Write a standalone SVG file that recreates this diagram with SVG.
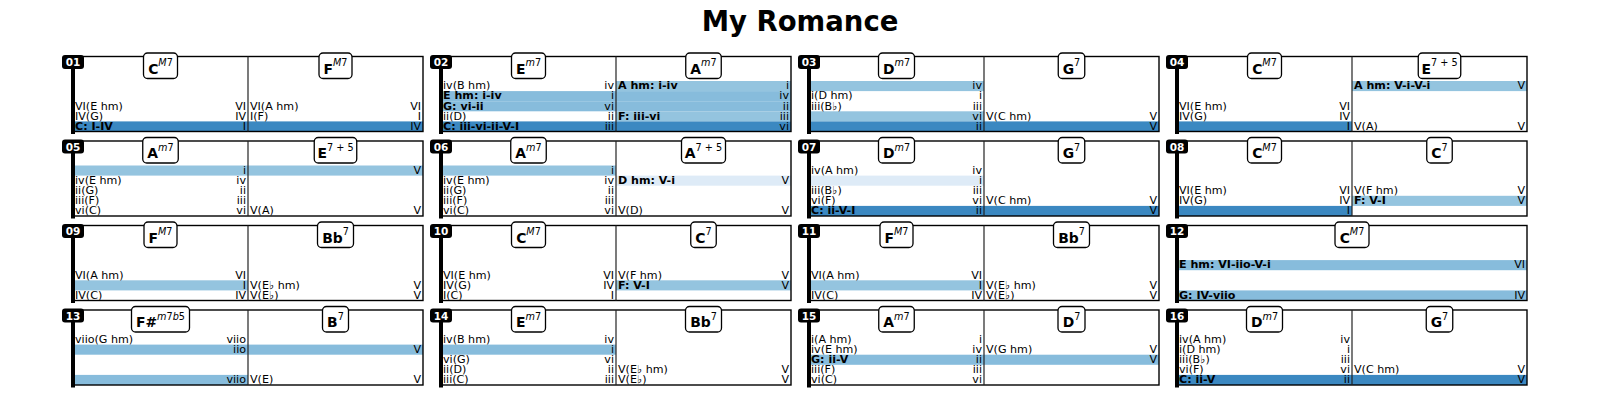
<svg xmlns="http://www.w3.org/2000/svg" width="1600" height="400" viewBox="0 0 1600 400">
<style>
.bg{fill:#fff}
.box{fill:none;stroke:#000;stroke-width:1.4}
.dv{stroke:#222;stroke-width:1.2}
.bar{stroke:#000;stroke-width:4}
.L{fill:#94c4df}.M{fill:#87bcdc}.D{fill:#3b88c1}.V{fill:#deebf7}
text{font-family:"DejaVu Sans","Liberation Sans",sans-serif}
.t{font-size:11.1px;fill:#000}
.b{font-weight:bold}
.r{text-anchor:end}
.ch{font-size:13.9px;font-weight:bold;text-anchor:middle;fill:#000}
.s{font-size:9.7px;font-weight:normal}
.i{font-style:italic}
.cb{fill:#fff;stroke:#000;stroke-width:1.3}
.bd{fill:#000}
.bt{fill:#fff;font-size:10.5px;font-weight:bold;text-anchor:middle}
.title{font-size:27.5px;font-weight:bold;text-anchor:middle;fill:#000}
</style>
<rect class="bg" x="0" y="0" width="1600" height="400"/>
<text class="title" x="800" y="31">My Romance</text>
<g id="connectors"/>

<g id="m01" transform="translate(73,56.5)">
<rect class="D" x="0" y="64.9" width="350" height="10.1"/>
<rect class="box" x="0" y="0" width="350" height="75"/><line class="dv" x1="175" y1="0" x2="175" y2="75"/>
<text class="t" x="2" y="53">VI(E hm)</text><text class="t r" x="173" y="53">VI</text>
<text class="t" x="2" y="63.1">IV(G)</text><text class="t r" x="173" y="63.1">IV</text>
<text class="t b" x="2" y="73.2">C: I-IV</text><text class="t r" x="173" y="73.2">I</text>
<text class="t" x="177" y="53">VI(A hm)</text><text class="t r" x="348" y="53">VI</text>
<text class="t" x="177" y="63.1">I(F)</text><text class="t r" x="348" y="63.1">I</text>
<text class="t r" x="348" y="73.2">IV</text>
<rect class="cb" x="70.5" y="-3.5" width="34" height="25.5" rx="4"/><text class="ch" x="87.5" y="17">C<tspan class="s" dy="-7.5"><tspan class="i">M</tspan>7</tspan></text>
<rect class="cb" x="246" y="-3.5" width="33" height="25.5" rx="4"/><text class="ch" x="262.5" y="17">F<tspan class="s" dy="-7.5"><tspan class="i">M</tspan>7</tspan></text>
<line class="bar" x1="0" y1="-1" x2="0" y2="77.5"/><rect class="bd" x="-11" y="-1.5" width="22" height="14" rx="3"/><text class="bt" x="0" y="9.5">01</text>
</g>

<g id="m02" transform="translate(441,56.5)">
<rect class="M" x="0" y="34.6" width="175" height="10.1"/><rect class="M" x="0" y="44.7" width="175" height="10.1"/><rect class="D" x="0" y="64.9" width="175" height="10.1"/>
<rect class="L" x="175" y="24.5" width="175" height="10.1"/><rect class="M" x="175" y="34.6" width="175" height="10.1"/><rect class="M" x="175" y="44.7" width="175" height="10.1"/><rect class="L" x="175" y="54.8" width="175" height="10.1"/><rect class="D" x="175" y="64.9" width="175" height="10.1"/>
<rect class="box" x="0" y="0" width="350" height="75"/><line class="dv" x1="175" y1="0" x2="175" y2="75"/>
<text class="t" x="2" y="32.8">iv(B hm)</text><text class="t r" x="173" y="32.8">iv</text>
<text class="t b" x="2" y="42.9">E hm: i-iv</text><text class="t r" x="173" y="42.9">i</text>
<text class="t b" x="2" y="53">G: vi-ii</text><text class="t r" x="173" y="53">vi</text>
<text class="t" x="2" y="63.1">ii(D)</text><text class="t r" x="173" y="63.1">ii</text>
<text class="t b" x="2" y="73.2">C: iii-vi-ii-V-I</text><text class="t r" x="173" y="73.2">iii</text>
<text class="t b" x="177" y="32.8">A hm: i-iv</text><text class="t r" x="348" y="32.8">i</text>
<text class="t r" x="348" y="42.9">iv</text>
<text class="t r" x="348" y="53">ii</text>
<text class="t b" x="177" y="63.1">F: iii-vi</text><text class="t r" x="348" y="63.1">iii</text>
<text class="t r" x="348" y="73.2">vi</text>
<rect class="cb" x="70.5" y="-3.5" width="34" height="25.5" rx="4"/><text class="ch" x="87.5" y="17">E<tspan class="s" dy="-7.5"><tspan class="i">m</tspan>7</tspan></text>
<rect class="cb" x="244.75" y="-3.5" width="35.5" height="25.5" rx="4"/><text class="ch" x="262.5" y="17">A<tspan class="s" dy="-7.5"><tspan class="i">m</tspan>7</tspan></text>
<line class="bar" x1="0" y1="-1" x2="0" y2="77.5"/><rect class="bd" x="-11" y="-1.5" width="22" height="14" rx="3"/><text class="bt" x="0" y="9.5">02</text>
</g>

<g id="m03" transform="translate(809,56.5)">
<rect class="L" x="0" y="24.5" width="175" height="10.1"/><rect class="L" x="0" y="54.8" width="175" height="10.1"/><rect class="D" x="0" y="64.9" width="350" height="10.1"/>
<rect class="box" x="0" y="0" width="350" height="75"/><line class="dv" x1="175" y1="0" x2="175" y2="75"/>
<text class="t r" x="173" y="32.8">iv</text>
<text class="t" x="2" y="42.9">i(D hm)</text><text class="t r" x="173" y="42.9">i</text>
<text class="t" x="2" y="53">iii(B♭)</text><text class="t r" x="173" y="53">iii</text>
<text class="t r" x="173" y="63.1">vi</text>
<text class="t r" x="173" y="73.2">ii</text>
<text class="t" x="177" y="63.1">V(C hm)</text><text class="t r" x="348" y="63.1">V</text>
<text class="t r" x="348" y="73.2">V</text>
<rect class="cb" x="69.5" y="-3.5" width="36" height="25.5" rx="4"/><text class="ch" x="87.5" y="17">D<tspan class="s" dy="-7.5"><tspan class="i">m</tspan>7</tspan></text>
<rect class="cb" x="249.25" y="-3.5" width="26.5" height="25.5" rx="4"/><text class="ch" x="262.5" y="17">G<tspan class="s" dy="-7.5">7</tspan></text>
<line class="bar" x1="0" y1="-1" x2="0" y2="77.5"/><rect class="bd" x="-11" y="-1.5" width="22" height="14" rx="3"/><text class="bt" x="0" y="9.5">03</text>
</g>

<g id="m04" transform="translate(1177,56.5)">
<rect class="D" x="0" y="64.9" width="175" height="10.1"/><rect class="L" x="175" y="24.5" width="175" height="10.1"/>
<rect class="box" x="0" y="0" width="350" height="75"/><line class="dv" x1="175" y1="0" x2="175" y2="75"/>
<text class="t" x="2" y="53">VI(E hm)</text><text class="t r" x="173" y="53">VI</text>
<text class="t" x="2" y="63.1">IV(G)</text><text class="t r" x="173" y="63.1">IV</text>
<text class="t r" x="173" y="73.2">I</text>
<text class="t b" x="177" y="32.8">A hm: V-i-V-i</text><text class="t r" x="348" y="32.8">V</text>
<text class="t" x="177" y="73.2">V(A)</text><text class="t r" x="348" y="73.2">V</text>
<rect class="cb" x="70.5" y="-3.5" width="34" height="25.5" rx="4"/><text class="ch" x="87.5" y="17">C<tspan class="s" dy="-7.5"><tspan class="i">M</tspan>7</tspan></text>
<rect class="cb" x="241.25" y="-3.5" width="42.5" height="25.5" rx="4"/><text class="ch" x="262.5" y="17">E<tspan class="s" dy="-7.5">7 + 5</tspan></text>
<line class="bar" x1="0" y1="-1" x2="0" y2="77.5"/><rect class="bd" x="-11" y="-1.5" width="22" height="14" rx="3"/><text class="bt" x="0" y="9.5">04</text>
</g>

<g id="m05" transform="translate(73,141)">
<rect class="L" x="0" y="24.5" width="350" height="10.1"/>
<rect class="box" x="0" y="0" width="350" height="75"/><line class="dv" x1="175" y1="0" x2="175" y2="75"/>
<text class="t r" x="173" y="32.8">i</text>
<text class="t" x="2" y="42.9">iv(E hm)</text><text class="t r" x="173" y="42.9">iv</text>
<text class="t" x="2" y="53">ii(G)</text><text class="t r" x="173" y="53">ii</text>
<text class="t" x="2" y="63.1">iii(F)</text><text class="t r" x="173" y="63.1">iii</text>
<text class="t" x="2" y="73.2">vi(C)</text><text class="t r" x="173" y="73.2">vi</text>
<text class="t r" x="348" y="32.8">V</text>
<text class="t" x="177" y="73.2">V(A)</text><text class="t r" x="348" y="73.2">V</text>
<rect class="cb" x="69.75" y="-3.5" width="35.5" height="25.5" rx="4"/><text class="ch" x="87.5" y="17">A<tspan class="s" dy="-7.5"><tspan class="i">m</tspan>7</tspan></text>
<rect class="cb" x="241.25" y="-3.5" width="42.5" height="25.5" rx="4"/><text class="ch" x="262.5" y="17">E<tspan class="s" dy="-7.5">7 + 5</tspan></text>
<line class="bar" x1="0" y1="-1" x2="0" y2="77.5"/><rect class="bd" x="-11" y="-1.5" width="22" height="14" rx="3"/><text class="bt" x="0" y="9.5">05</text>
</g>

<g id="m06" transform="translate(441,141)">
<rect class="L" x="0" y="24.5" width="175" height="10.1"/><rect class="V" x="175" y="34.6" width="175" height="10.1"/>
<rect class="box" x="0" y="0" width="350" height="75"/><line class="dv" x1="175" y1="0" x2="175" y2="75"/>
<text class="t r" x="173" y="32.8">i</text>
<text class="t" x="2" y="42.9">iv(E hm)</text><text class="t r" x="173" y="42.9">iv</text>
<text class="t" x="2" y="53">ii(G)</text><text class="t r" x="173" y="53">ii</text>
<text class="t" x="2" y="63.1">iii(F)</text><text class="t r" x="173" y="63.1">iii</text>
<text class="t" x="2" y="73.2">vi(C)</text><text class="t r" x="173" y="73.2">vi</text>
<text class="t b" x="177" y="42.9">D hm: V-i</text><text class="t r" x="348" y="42.9">V</text>
<text class="t" x="177" y="73.2">V(D)</text><text class="t r" x="348" y="73.2">V</text>
<rect class="cb" x="69.75" y="-3.5" width="35.5" height="25.5" rx="4"/><text class="ch" x="87.5" y="17">A<tspan class="s" dy="-7.5"><tspan class="i">m</tspan>7</tspan></text>
<rect class="cb" x="240.5" y="-3.5" width="44" height="25.5" rx="4"/><text class="ch" x="262.5" y="17">A<tspan class="s" dy="-7.5">7 + 5</tspan></text>
<line class="bar" x1="0" y1="-1" x2="0" y2="77.5"/><rect class="bd" x="-11" y="-1.5" width="22" height="14" rx="3"/><text class="bt" x="0" y="9.5">06</text>
</g>

<g id="m07" transform="translate(809,141)">
<rect class="V" x="0" y="34.6" width="175" height="10.1"/><rect class="D" x="0" y="64.9" width="350" height="10.1"/>
<rect class="box" x="0" y="0" width="350" height="75"/><line class="dv" x1="175" y1="0" x2="175" y2="75"/>
<text class="t" x="2" y="32.8">iv(A hm)</text><text class="t r" x="173" y="32.8">iv</text>
<text class="t r" x="173" y="42.9">i</text>
<text class="t" x="2" y="53">iii(B♭)</text><text class="t r" x="173" y="53">iii</text>
<text class="t" x="2" y="63.1">vi(F)</text><text class="t r" x="173" y="63.1">vi</text>
<text class="t b" x="2" y="73.2">C: ii-V-I</text><text class="t r" x="173" y="73.2">ii</text>
<text class="t" x="177" y="63.1">V(C hm)</text><text class="t r" x="348" y="63.1">V</text>
<text class="t r" x="348" y="73.2">V</text>
<rect class="cb" x="69.5" y="-3.5" width="36" height="25.5" rx="4"/><text class="ch" x="87.5" y="17">D<tspan class="s" dy="-7.5"><tspan class="i">m</tspan>7</tspan></text>
<rect class="cb" x="249.25" y="-3.5" width="26.5" height="25.5" rx="4"/><text class="ch" x="262.5" y="17">G<tspan class="s" dy="-7.5">7</tspan></text>
<line class="bar" x1="0" y1="-1" x2="0" y2="77.5"/><rect class="bd" x="-11" y="-1.5" width="22" height="14" rx="3"/><text class="bt" x="0" y="9.5">07</text>
</g>

<g id="m08" transform="translate(1177,141)">
<rect class="D" x="0" y="64.9" width="175" height="10.1"/><rect class="L" x="175" y="54.8" width="175" height="10.1"/>
<rect class="box" x="0" y="0" width="350" height="75"/><line class="dv" x1="175" y1="0" x2="175" y2="75"/>
<text class="t" x="2" y="53">VI(E hm)</text><text class="t r" x="173" y="53">VI</text>
<text class="t" x="2" y="63.1">IV(G)</text><text class="t r" x="173" y="63.1">IV</text>
<text class="t r" x="173" y="73.2">I</text>
<text class="t" x="177" y="53">V(F hm)</text><text class="t r" x="348" y="53">V</text>
<text class="t b" x="177" y="63.1">F: V-I</text><text class="t r" x="348" y="63.1">V</text>
<rect class="cb" x="70.5" y="-3.5" width="34" height="25.5" rx="4"/><text class="ch" x="87.5" y="17">C<tspan class="s" dy="-7.5"><tspan class="i">M</tspan>7</tspan></text>
<rect class="cb" x="249.75" y="-3.5" width="25.5" height="25.5" rx="4"/><text class="ch" x="262.5" y="17">C<tspan class="s" dy="-7.5">7</tspan></text>
<line class="bar" x1="0" y1="-1" x2="0" y2="77.5"/><rect class="bd" x="-11" y="-1.5" width="22" height="14" rx="3"/><text class="bt" x="0" y="9.5">08</text>
</g>

<g id="m09" transform="translate(73,225.5)">
<rect class="L" x="0" y="54.8" width="175" height="10.1"/>
<rect class="box" x="0" y="0" width="350" height="75"/><line class="dv" x1="175" y1="0" x2="175" y2="75"/>
<text class="t" x="2" y="53">VI(A hm)</text><text class="t r" x="173" y="53">VI</text>
<text class="t r" x="173" y="63.1">I</text>
<text class="t" x="2" y="73.2">IV(C)</text><text class="t r" x="173" y="73.2">IV</text>
<text class="t" x="177" y="63.1">V(E♭ hm)</text><text class="t r" x="348" y="63.1">V</text>
<text class="t" x="177" y="73.2">V(E♭)</text><text class="t r" x="348" y="73.2">V</text>
<rect class="cb" x="71" y="-3.5" width="33" height="25.5" rx="4"/><text class="ch" x="87.5" y="17">F<tspan class="s" dy="-7.5"><tspan class="i">M</tspan>7</tspan></text>
<rect class="cb" x="244.5" y="-3.5" width="36" height="25.5" rx="4"/><text class="ch" x="262.5" y="17">Bb<tspan class="s" dy="-7.5">7</tspan></text>
<line class="bar" x1="0" y1="-1" x2="0" y2="77.5"/><rect class="bd" x="-11" y="-1.5" width="22" height="14" rx="3"/><text class="bt" x="0" y="9.5">09</text>
</g>

<g id="m10" transform="translate(441,225.5)">
<rect class="L" x="175" y="54.8" width="175" height="10.1"/>
<rect class="box" x="0" y="0" width="350" height="75"/><line class="dv" x1="175" y1="0" x2="175" y2="75"/>
<text class="t" x="2" y="53">VI(E hm)</text><text class="t r" x="173" y="53">VI</text>
<text class="t" x="2" y="63.1">IV(G)</text><text class="t r" x="173" y="63.1">IV</text>
<text class="t" x="2" y="73.2">I(C)</text><text class="t r" x="173" y="73.2">I</text>
<text class="t" x="177" y="53">V(F hm)</text><text class="t r" x="348" y="53">V</text>
<text class="t b" x="177" y="63.1">F: V-I</text><text class="t r" x="348" y="63.1">V</text>
<rect class="cb" x="70.5" y="-3.5" width="34" height="25.5" rx="4"/><text class="ch" x="87.5" y="17">C<tspan class="s" dy="-7.5"><tspan class="i">M</tspan>7</tspan></text>
<rect class="cb" x="249.75" y="-3.5" width="25.5" height="25.5" rx="4"/><text class="ch" x="262.5" y="17">C<tspan class="s" dy="-7.5">7</tspan></text>
<line class="bar" x1="0" y1="-1" x2="0" y2="77.5"/><rect class="bd" x="-11" y="-1.5" width="22" height="14" rx="3"/><text class="bt" x="0" y="9.5">10</text>
</g>

<g id="m11" transform="translate(809,225.5)">
<rect class="L" x="0" y="54.8" width="175" height="10.1"/>
<rect class="box" x="0" y="0" width="350" height="75"/><line class="dv" x1="175" y1="0" x2="175" y2="75"/>
<text class="t" x="2" y="53">VI(A hm)</text><text class="t r" x="173" y="53">VI</text>
<text class="t r" x="173" y="63.1">I</text>
<text class="t" x="2" y="73.2">IV(C)</text><text class="t r" x="173" y="73.2">IV</text>
<text class="t" x="177" y="63.1">V(E♭ hm)</text><text class="t r" x="348" y="63.1">V</text>
<text class="t" x="177" y="73.2">V(E♭)</text><text class="t r" x="348" y="73.2">V</text>
<rect class="cb" x="71" y="-3.5" width="33" height="25.5" rx="4"/><text class="ch" x="87.5" y="17">F<tspan class="s" dy="-7.5"><tspan class="i">M</tspan>7</tspan></text>
<rect class="cb" x="244.5" y="-3.5" width="36" height="25.5" rx="4"/><text class="ch" x="262.5" y="17">Bb<tspan class="s" dy="-7.5">7</tspan></text>
<line class="bar" x1="0" y1="-1" x2="0" y2="77.5"/><rect class="bd" x="-11" y="-1.5" width="22" height="14" rx="3"/><text class="bt" x="0" y="9.5">11</text>
</g>

<g id="m12" transform="translate(1177,225.5)">
<rect class="M" x="0" y="34.6" width="350" height="10.1"/><rect class="M" x="0" y="64.9" width="350" height="10.1"/>
<rect class="box" x="0" y="0" width="350" height="75"/>
<text class="t b" x="2" y="42.9">E hm: VI-iio-V-i</text><text class="t r" x="348" y="42.9">VI</text>
<text class="t b" x="2" y="73.2">G: IV-viio</text><text class="t r" x="348" y="73.2">IV</text>
<rect class="cb" x="158" y="-3.5" width="34" height="25.5" rx="4"/><text class="ch" x="175" y="17">C<tspan class="s" dy="-7.5"><tspan class="i">M</tspan>7</tspan></text>
<line class="bar" x1="0" y1="-1" x2="0" y2="77.5"/><rect class="bd" x="-11" y="-1.5" width="22" height="14" rx="3"/><text class="bt" x="0" y="9.5">12</text>
</g>

<g id="m13" transform="translate(73,310)">
<rect class="M" x="0" y="34.6" width="350" height="10.1"/><rect class="M" x="0" y="64.9" width="175" height="10.1"/>
<rect class="box" x="0" y="0" width="350" height="75"/><line class="dv" x1="175" y1="0" x2="175" y2="75"/>
<text class="t" x="2" y="32.8">viio(G hm)</text><text class="t r" x="173" y="32.8">viio</text>
<text class="t r" x="173" y="42.9">iio</text>
<text class="t r" x="173" y="73.2">viio</text>
<text class="t r" x="348" y="42.9">V</text>
<text class="t" x="177" y="73.2">V(E)</text><text class="t r" x="348" y="73.2">V</text>
<rect class="cb" x="58.5" y="-3.5" width="58" height="25.5" rx="4"/><text class="ch" x="87.5" y="17">F#<tspan class="s" dy="-7.5"><tspan class="i">m</tspan>7<tspan class="i">b</tspan>5</tspan></text>
<rect class="cb" x="249.5" y="-3.5" width="26" height="25.5" rx="4"/><text class="ch" x="262.5" y="17">B<tspan class="s" dy="-7.5">7</tspan></text>
<line class="bar" x1="0" y1="-1" x2="0" y2="77.5"/><rect class="bd" x="-11" y="-1.5" width="22" height="14" rx="3"/><text class="bt" x="0" y="9.5">13</text>
</g>

<g id="m14" transform="translate(441,310)">
<rect class="M" x="0" y="34.6" width="175" height="10.1"/>
<rect class="box" x="0" y="0" width="350" height="75"/><line class="dv" x1="175" y1="0" x2="175" y2="75"/>
<text class="t" x="2" y="32.8">iv(B hm)</text><text class="t r" x="173" y="32.8">iv</text>
<text class="t r" x="173" y="42.9">i</text>
<text class="t" x="2" y="53">vi(G)</text><text class="t r" x="173" y="53">vi</text>
<text class="t" x="2" y="63.1">ii(D)</text><text class="t r" x="173" y="63.1">ii</text>
<text class="t" x="2" y="73.2">iii(C)</text><text class="t r" x="173" y="73.2">iii</text>
<text class="t" x="177" y="63.1">V(E♭ hm)</text><text class="t r" x="348" y="63.1">V</text>
<text class="t" x="177" y="73.2">V(E♭)</text><text class="t r" x="348" y="73.2">V</text>
<rect class="cb" x="70.5" y="-3.5" width="34" height="25.5" rx="4"/><text class="ch" x="87.5" y="17">E<tspan class="s" dy="-7.5"><tspan class="i">m</tspan>7</tspan></text>
<rect class="cb" x="244.5" y="-3.5" width="36" height="25.5" rx="4"/><text class="ch" x="262.5" y="17">Bb<tspan class="s" dy="-7.5">7</tspan></text>
<line class="bar" x1="0" y1="-1" x2="0" y2="77.5"/><rect class="bd" x="-11" y="-1.5" width="22" height="14" rx="3"/><text class="bt" x="0" y="9.5">14</text>
</g>

<g id="m15" transform="translate(809,310)">
<rect class="M" x="0" y="44.7" width="350" height="10.1"/>
<rect class="box" x="0" y="0" width="350" height="75"/><line class="dv" x1="175" y1="0" x2="175" y2="75"/>
<text class="t" x="2" y="32.8">i(A hm)</text><text class="t r" x="173" y="32.8">i</text>
<text class="t" x="2" y="42.9">iv(E hm)</text><text class="t r" x="173" y="42.9">iv</text>
<text class="t b" x="2" y="53">G: ii-V</text><text class="t r" x="173" y="53">ii</text>
<text class="t" x="2" y="63.1">iii(F)</text><text class="t r" x="173" y="63.1">iii</text>
<text class="t" x="2" y="73.2">vi(C)</text><text class="t r" x="173" y="73.2">vi</text>
<text class="t" x="177" y="42.9">V(G hm)</text><text class="t r" x="348" y="42.9">V</text>
<text class="t r" x="348" y="53">V</text>
<rect class="cb" x="69.75" y="-3.5" width="35.5" height="25.5" rx="4"/><text class="ch" x="87.5" y="17">A<tspan class="s" dy="-7.5"><tspan class="i">m</tspan>7</tspan></text>
<rect class="cb" x="249" y="-3.5" width="27" height="25.5" rx="4"/><text class="ch" x="262.5" y="17">D<tspan class="s" dy="-7.5">7</tspan></text>
<line class="bar" x1="0" y1="-1" x2="0" y2="77.5"/><rect class="bd" x="-11" y="-1.5" width="22" height="14" rx="3"/><text class="bt" x="0" y="9.5">15</text>
</g>

<g id="m16" transform="translate(1177,310)">
<rect class="D" x="0" y="64.9" width="350" height="10.1"/>
<rect class="box" x="0" y="0" width="350" height="75"/><line class="dv" x1="175" y1="0" x2="175" y2="75"/>
<text class="t" x="2" y="32.8">iv(A hm)</text><text class="t r" x="173" y="32.8">iv</text>
<text class="t" x="2" y="42.9">i(D hm)</text><text class="t r" x="173" y="42.9">i</text>
<text class="t" x="2" y="53">iii(B♭)</text><text class="t r" x="173" y="53">iii</text>
<text class="t" x="2" y="63.1">vi(F)</text><text class="t r" x="173" y="63.1">vi</text>
<text class="t b" x="2" y="73.2">C: ii-V</text><text class="t r" x="173" y="73.2">ii</text>
<text class="t" x="177" y="63.1">V(C hm)</text><text class="t r" x="348" y="63.1">V</text>
<text class="t r" x="348" y="73.2">V</text>
<rect class="cb" x="69.5" y="-3.5" width="36" height="25.5" rx="4"/><text class="ch" x="87.5" y="17">D<tspan class="s" dy="-7.5"><tspan class="i">m</tspan>7</tspan></text>
<rect class="cb" x="249.25" y="-3.5" width="26.5" height="25.5" rx="4"/><text class="ch" x="262.5" y="17">G<tspan class="s" dy="-7.5">7</tspan></text>
<line class="bar" x1="0" y1="-1" x2="0" y2="77.5"/><rect class="bd" x="-11" y="-1.5" width="22" height="14" rx="3"/><text class="bt" x="0" y="9.5">16</text>
</g>
</svg>
